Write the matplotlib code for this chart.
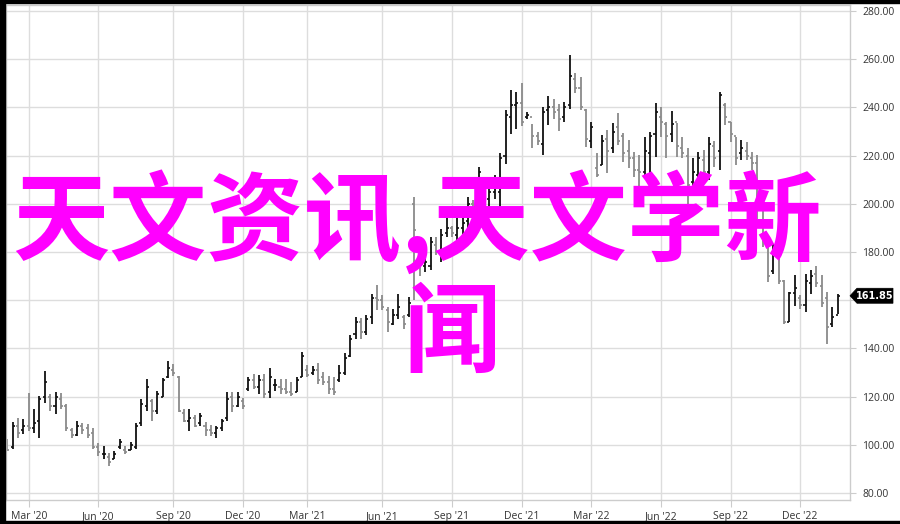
import matplotlib
matplotlib.use("Agg")
import matplotlib.pyplot as plt
import numpy as np
import pandas as pd
from matplotlib.patches import Rectangle, Polygon

# ---------------- data (weekly OHLC) ----------------
start_date = "2020-02-03"
highs = [102.3,109.5,111.3,110.6,121.4,114.7,120.3,130.6,121.0,122.0,121.7,116.8,107.0,110.0,109.2,108.5,107.0,100.9,99.5,96.8,
         97.5,102.6,99.5,101.2,109.2,119.2,127.2,119.0,122.4,127.6,134.9,133.5,128.7,114.8,114.8,112.4,113.2,109.6,108.2,107.9,
         110.7,121.8,122.0,121.8,119.3,128.0,129.4,128.9,129.4,131.7,127.3,127.3,127.3,125.9,128.0,138.5,133.0,132.7,134.0,130.2,
         128.4,128.2,133.0,138.1,145.4,153.0,152.8,153.7,162.7,166.2,162.0,157.2,156.5,162.7,153.7,161.3,203.0,182.0,177.2,186.2,
         186.2,189.7,197.3,191.0,195.3,196.0,202.9,201.5,215.4,208.4,210.5,211.9,220.9,238.9,247.4,246.5,250.2,238.2,233.3,229.9,
         240.2,244.7,243.7,241.6,242.3,261.7,254.3,252.7,239.5,234.0,220.9,228.5,230.6,233.4,237.5,229.2,226.5,221.6,220.2,227.8,
         229.9,241.7,240.3,234.1,238.6,233.4,227.8,223.0,218.9,221.6,222.3,227.6,226.2,246.5,241.7,234.1,227.8,226.5,225.8,221.6,
         220.2,198.0,186.2,183.4,179.3,168.2,163.4,170.3,162.0,171.0,172.4,174.4,170.3,163.4,157.2,162.7]
lows = [97.5,98.2,103.0,104.4,105.8,105.0,103.0,117.5,114.0,112.7,114.7,105.8,103.0,103.7,104.4,103.0,98.2,95.4,94.0,91.2,
        94.0,98.2,96.0,97.9,98.2,107.8,114.0,110.0,112.8,119.7,127.6,128.7,113.7,109.3,105.9,107.2,107.7,103.8,103.8,102.7,
        105.9,110.0,113.5,115.5,114.8,122.4,123.1,121.1,119.3,119.3,122.4,121.1,121.1,120.4,121.8,128.2,128.2,128.9,125.4,124.7,
        121.0,120.6,126.2,128.9,136.5,144.0,144.0,145.4,150.3,155.8,155.8,146.8,149.6,152.4,148.2,153.0,160.0,170.0,171.7,172.4,
        178.6,175.9,186.2,186.2,183.5,186.0,190.0,192.0,197.4,198.0,198.8,202.2,198.8,216.7,228.9,231.2,232.2,235.4,223.0,224.3,
        220.2,232.6,235.4,230.3,234.0,239.5,245.8,238.9,223.6,223.0,211.2,216.0,212.6,220.9,224.4,217.5,214.7,211.2,203.6,211.2,
        211.9,219.5,227.8,218.9,225.8,219.5,218.9,199.5,205.0,208.5,209.9,209.9,215.4,214.0,232.7,225.8,216.1,218.2,218.2,214.0,
        190.5,182.0,167.5,171.0,166.8,150.2,150.9,157.8,156.5,155.1,162.7,165.4,157.2,142.0,148.9,154.4]
opens = [101,99,108,106,108,107,110,120,120,116,119,116,106,104,108,107,105,99,96,95,
         94,99,98,98,99,109,116,118,114,120,128,131,128,113,110,111,109,108,106,105,
         107,111,120,116,118,123,127,124,127,122,125,124,123,122,122,128,131,130,131,128,
         126,123,127,130,137,146,151,147,153,161,160,156,150,154,153,154,200,180,174,174,
         183,179,188,190,187,190,193,200,198,207,202,205,205,220,236,241,242,236,236,228,
         225,239,240,239,236,241,252,248,239,226,215,216,227,223,232,228,222,219,214,213,
         221,229,236,233,229,234,223,220,209,212,218,213,224,222,241,234,228,221,222,219,
         217,193,184,172,178,168,151,163,161,158,167,171,166,161,150,154]
closes = [98,108,105,108,107,109,119,126,116,120,116,107,104,108,106,104,99,97,96,93,
          96,101,97,100,108,117,124,114,121,127,132,130,114,110,111,108,112,106,105,107,
          110,119,116,120,116,127,124,127,121,128,125,123,122,121,127,137,129,131,127,126,
          123,122,130,136,144,151,147,152,161,160,157,151,154,157,150,159,189,175,176,184,
          180,187,190,188,190,192,200,196,213,201,205,208,219,237,241,242,234,237,228,226,
          238,240,238,235,240,253,248,240,227,232,212,226,222,230,226,221,219,214,213,222,
          228,238,234,228,233,224,221,208,213,219,213,225,219,245,236,229,219,223,220,217,
          193,188,170,180,168,151,163,165,158,168,170,167,159,149,153,161.85]
y_ticks = [80, 100, 120, 140, 160, 180, 200, 220, 240, 260, 280]
x_tick_months = ["2020-03", "2020-06", "2020-09", "2020-12", "2021-03", "2021-06", "2021-09",
                 "2021-12", "2022-03", "2022-06", "2022-09", "2022-12"]
last_price = 161.85
title_line1 = "天文资讯,天文学新"
title_line2 = "闻"

# ---------------- figure ----------------
W, H = 900, 524
fig = plt.figure(figsize=(W / 100, H / 100), dpi=100)
fig.patch.set_facecolor("white")

def fx(px):
    return px / W

def fy(py):
    return 1 - py / H

ax = fig.add_axes([fx(6), fy(500), fx(850) - fx(6), fy(5) - fy(500)])
n = len(highs)
dates = pd.date_range(start_date, periods=n, freq="7D")
xs = np.arange(n)

ax.set_xlim(-0.24, 157.3)
ax.set_ylim(77.1, 282.5)

grid_c = "#dddddd"
for yt in y_ticks:
    ax.axhline(yt, color=grid_c, lw=1, zorder=0)

tick_pos = []
tick_lab = []
for m in x_tick_months:
    per = pd.Period(m, freq="M")
    idx = np.where(dates.to_period("M") == per)[0]
    if len(idx):
        tick_pos.append(idx[0])
        tick_lab.append(per.strftime("%b '%y"))
for tp in tick_pos:
    ax.axvline(tp, color=grid_c, lw=1, zorder=0)

o = np.array(opens, float)
c = np.array(closes, float)
cols = np.where(c >= o, "#111111", "#8a8a8a")
ax.vlines(xs, lows, highs, colors=cols, lw=1.3, zorder=2)
ax.hlines(o, xs - 0.38, xs, colors=cols, lw=1.2, zorder=2)
ax.hlines(c, xs, xs + 0.38, colors=cols, lw=1.2, zorder=2)

for s in ax.spines.values():
    s.set_color("#cccccc")
    s.set_linewidth(1)

# y labels: the one hidden behind the last-price box is left blank, as in the reference
y_labels = ["" if abs(v - last_price) < 6 else f"{v:.2f}" for v in y_ticks]
ax.yaxis.tick_right()
ax.set_yticks(y_ticks)
ax.set_yticklabels(y_labels, fontsize=7.5, color="#333333", fontfamily="Open Sans")
ax.set_xticks(tick_pos)
ax.set_xticklabels(tick_lab, fontsize=7.5, color="#333333", fontfamily="Open Sans")
ax.tick_params(axis="x", length=5, color="#cccccc", pad=3)
ax.tick_params(axis="y", length=4, color="#cccccc", pad=5)

# last price label (black arrow box on the right axis)
y_lp = ax.transData.transform((0, last_price))[1]
py_lp = H - y_lp
pts = [(850, py_lp), (857, py_lp - 7.5), (893, py_lp - 7.5), (893, py_lp + 7.5), (857, py_lp + 7.5)]
poly = Polygon([(fx(px), fy(py)) for px, py in pts], closed=True, transform=fig.transFigure,
               fc="black", ec="black", lw=0.5, zorder=20)
fig.patches.append(poly)
fig.text(fx(875), fy(py_lp), f"{last_price:.2f}", ha="center", va="center", fontsize=7,
         fontweight="bold", color="white", family="DejaVu Sans", zorder=21)

# overlay magenta text
fam = ["Noto Sans CJK SC", "DejaVu Sans"]
fig.text(fx(417), fy(222), title_line1, ha="center", va="center", fontsize=70,
         fontweight="bold", color="#ff00ff", family=fam, zorder=15)
fig.text(fx(452), fy(335), title_line2, ha="center", va="center", fontsize=70,
         fontweight="bold", color="#ff00ff", family=fam, zorder=15)

# black frame border (left, top, bottom)
fig.patches.append(Rectangle((0, 0), fx(5), 1, transform=fig.transFigure, color="black", zorder=30))
fig.patches.append(Rectangle((0, fy(3)), 1, 1 - fy(3), transform=fig.transFigure, color="black", zorder=30))
fig.patches.append(Rectangle((0, 0), 1, 1 - fy(3), transform=fig.transFigure, color="black", zorder=30))

fig.savefig("out.png", dpi=100)
